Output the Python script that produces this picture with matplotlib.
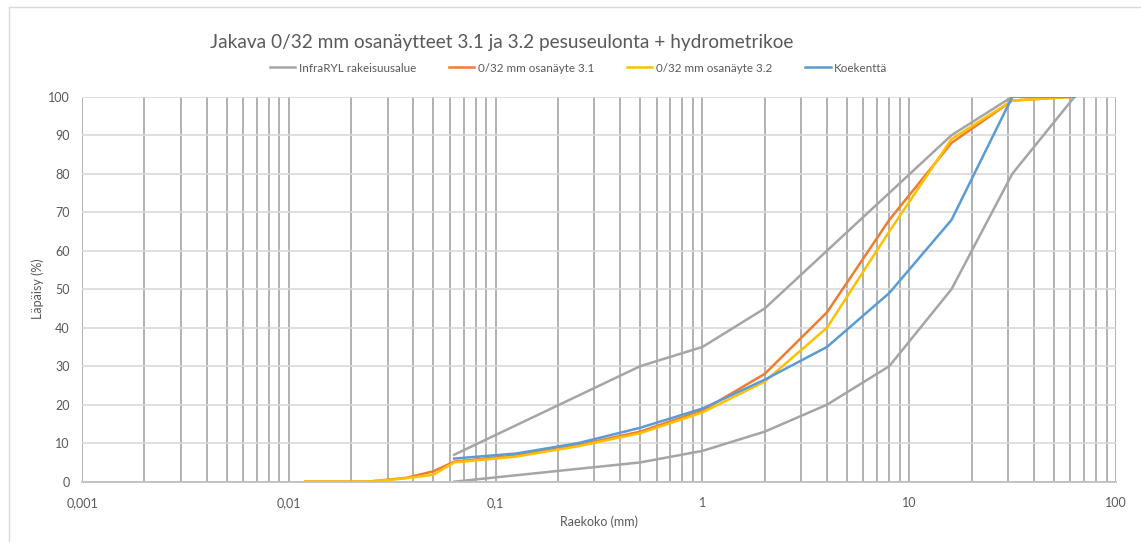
import matplotlib
matplotlib.use("Agg")
import matplotlib.pyplot as plt
from matplotlib.ticker import FixedLocator, FixedFormatter, LogLocator, NullFormatter
from matplotlib.lines import Line2D

plt.rcParams['font.family'] = ['Lato', 'DejaVu Sans']

# InfraRYL grading envelope: lower limit, then upper limit
ryl_x_lower = [0.063, 0.5, 1, 2, 4, 8, 16, 31.5, 63]
ryl_y_lower = [0, 5, 8, 13, 20, 30, 50, 80, 100]
ryl_x_upper = [0.063, 0.5, 1, 2, 4, 8, 16, 31.5, 63]
ryl_y_upper = [7, 30, 35, 45, 60, 75, 90, 100, 100]

# samples (hydrometer + wash sieving)
sample_x = [0.012, 0.024, 0.037, 0.05, 0.063, 0.125, 0.25, 0.5, 1, 2, 4, 8, 16, 31.5, 63]
sample_31 = [0, 0, 1.0, 2.7, 5.2, 6.8, 9.5, 13.0, 18.5, 28, 44, 68, 88, 99, 100]
sample_32 = [0, 0, 0.9, 1.8, 5.0, 6.5, 9.2, 12.6, 18.0, 26, 40, 65, 89, 99, 100]

field_x = [0.063, 0.125, 0.25, 0.5, 1, 2, 4, 8, 16, 31.5, 63]
field_y = [6, 7.3, 10, 14, 19, 26.5, 35, 49, 68, 100, 100]

xticks = [0.001, 0.01, 0.1, 1, 10, 100]
xtick_labels = ['0,001', '0,01', '0,1', '1', '10', '100']

fig = plt.figure(figsize=(11.41, 5.42), dpi=100)
ax = fig.add_axes([0.0719, 0.1113, 0.9063, 0.7103])

grey = '#A5A5A5'
orange = '#ED7D31'
yellow = '#FFC000'
blue = '#5B9BD5'
lw = 1.8

ax.plot(ryl_x_lower + ryl_x_upper[::-1], ryl_y_lower + ryl_y_upper[::-1], color=grey, lw=lw)
ax.plot(sample_x, sample_31, color=orange, lw=lw)
ax.plot(sample_x, sample_32, color=yellow, lw=lw)
ax.plot(field_x, field_y, color=blue, lw=lw)

ax.set_xscale('log')
ax.set_xlim(0.001, 100)
ax.set_ylim(0, 100)
ax.xaxis.set_major_locator(FixedLocator(xticks))
ax.xaxis.set_major_formatter(FixedFormatter(xtick_labels))
ax.xaxis.set_minor_locator(LogLocator(base=10, subs=range(2, 10), numticks=20))
ax.xaxis.set_minor_formatter(NullFormatter())
ax.set_yticks(range(0, 101, 10))

ax.set_axisbelow(True)
ax.grid(which='both', axis='x', color='#ABABAB', lw=1.3)
ax.grid(which='major', axis='y', color='#D9D9D9', lw=1.2)
for s in ['top', 'right', 'left']:
    ax.spines[s].set_visible(False)
ax.spines['bottom'].set_color('#BFBFBF')
ax.spines['bottom'].set_linewidth(1.3)

ax.tick_params(which='both', length=0, labelsize=9, labelcolor='#595959')
ax.tick_params(axis='x', pad=11)
ax.tick_params(axis='y', pad=9)

ax.set_xlabel('Raekoko (mm)', fontsize=9, color='#595959', labelpad=5)
ax.set_ylabel('Läpäisy (%)', fontsize=9, color='#595959', labelpad=3)

fig.text(0.44, 0.9225, 'Jakava 0/32 mm osanäytteet 3.1 ja 3.2 pesuseulonta + hydrometrikoe',
         ha='center', va='center', fontsize=13.7, color='#595959')

handles = [Line2D([], [], color=c, lw=lw) for c in [grey, orange, yellow, blue]]
labels = ['InfraRYL rakeisuusalue', '0/32 mm osanäyte 3.1', '0/32 mm osanäyte 3.2', 'Koekenttä']
leg = fig.legend(handles, labels, loc='center', bbox_to_anchor=(0.507, 0.8745), ncol=4,
                 frameon=False, fontsize=8.4, handlelength=2.2, handletextpad=0.3,
                 columnspacing=2.8)
for t in leg.get_texts():
    t.set_color('#595959')

# chart area border
fig.add_artist(Line2D([0.0079, 0.0079], [0, 0.987], color='#D9D9D9', lw=1, transform=fig.transFigure))
fig.add_artist(Line2D([0.0079, 1], [0.987, 0.987], color='#D9D9D9', lw=1, transform=fig.transFigure))

fig.savefig('out.png', dpi=100)
